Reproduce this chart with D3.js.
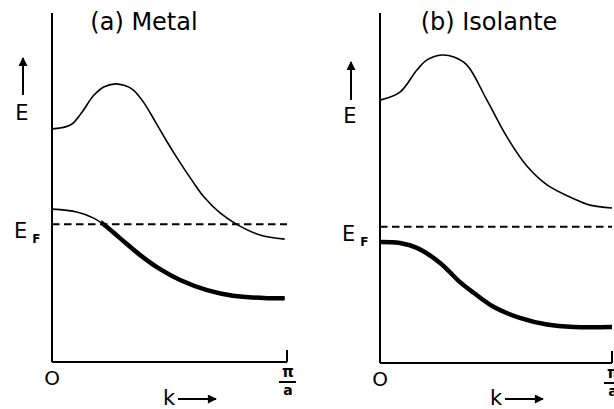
<!DOCTYPE html>
<html>
<head>
<meta charset="utf-8">
<script src="https://cdn.jsdelivr.net/npm/d3@7"></script>
<style>
html,body{margin:0;padding:0;background:#fff;}
svg{display:block;}
text{font-family:"DejaVu Sans",sans-serif;fill:#000;}
</style>
</head>
<body>
<svg id="chart" width="614" height="409"></svg>
<script>
// ---- Data (k in units of π/a, E in arbitrary units 0..10) ----
const titles = ["(a) Metal", "(b) Isolante"];
const kTickLabels = ["O", "π", "a"];
const energyLabel = "E";
const fermiLabel = ["E", "F"];
const kLabel = "k";

// Panel (a) Metal
const metalUpperK = [0, 0.04, 0.085, 0.13, 0.175, 0.22, 0.27, 0.31, 0.345, 0.39, 0.44, 0.485, 0.53, 0.6, 0.645, 0.715, 0.79, 0.885, 0.99];
const metalUpperE = [6.68, 6.71, 6.82, 7.18, 7.62, 7.88, 7.97, 7.92, 7.80, 7.44, 6.88, 6.36, 5.87, 5.16, 4.74, 4.27, 3.93, 3.64, 3.52];
const metalLowerK = [0, 0.106, 0.175, 0.216, 0.289, 0.374, 0.46, 0.545, 0.66, 0.77, 0.915, 0.99];
const metalLowerE = [4.38, 4.30, 4.13, 3.96, 3.55, 3.07, 2.66, 2.35, 2.06, 1.90, 1.83, 1.83];
const metalFermi = 3.95;
const metalFilledFromK = 0.21;

// Panel (b) Isolante
const insUpperK = [0, 0.086, 0.159, 0.203, 0.267, 0.319, 0.375, 0.461, 0.547, 0.634, 0.72, 0.836, 0.905, 1.0];
const insUpperE = [7.51, 7.74, 8.37, 8.66, 8.80, 8.74, 8.51, 7.51, 6.46, 5.62, 5.09, 4.69, 4.51, 4.43];
const insLowerK = [0, 0.086, 0.159, 0.259, 0.345, 0.405, 0.491, 0.603, 0.72, 0.836, 1.0];
const insLowerE = [3.46, 3.43, 3.29, 2.86, 2.31, 2.00, 1.60, 1.29, 1.10, 1.03, 1.03];
const insFermi = 3.89;
const insFilledFromK = 0;

const svg = d3.select("#chart");

const panels = [
  {title: titles[0], x0: 52, x1: 287, yBottom: 362, yTop: 13,
   upperK: metalUpperK, upperE: metalUpperE, lowerK: metalLowerK, lowerE: metalLowerE,
   fermi: metalFermi, filledFrom: metalFilledFromK, titleX: 144, id: "a"},
  {title: titles[1], x0: 380, x1: 612, yBottom: 363, yTop: 13,
   upperK: insUpperK, upperE: insUpperE, lowerK: insLowerK, lowerE: insLowerE,
   fermi: insFermi, filledFrom: insFilledFromK, titleX: 489, id: "b"}
];

const defs = svg.append("defs");
defs.append("marker").attr("id", "arrow")
  .attr("viewBox", "0 0 10 10").attr("refX", 9).attr("refY", 5)
  .attr("markerWidth", 11).attr("markerHeight", 9).attr("markerUnits", "userSpaceOnUse")
  .attr("orient", "auto")
  .append("path").attr("d", "M0,0 L10,5 L0,10 Z").attr("fill", "#000");

panels.forEach(p => {
  const x = d3.scaleLinear().domain([0, 1]).range([p.x0, p.x1]);
  const y = d3.scaleLinear().domain([0, 10]).range([p.yBottom, p.yTop]);
  const g = svg.append("g");

  const line = d3.line().x(d => x(d[0])).y(d => y(d[1])).curve(d3.curveCatmullRom.alpha(0.5));
  const upper = p.upperK.map((k, i) => [k, p.upperE[i]]);
  const lower = p.lowerK.map((k, i) => [k, p.lowerE[i]]);

  // axes
  g.append("line").attr("x1", x(0)).attr("x2", x(0)).attr("y1", y(10)).attr("y2", y(0))
    .attr("stroke", "#000").attr("stroke-width", 2);
  g.append("line").attr("x1", x(0)).attr("x2", x(1)).attr("y1", y(0)).attr("y2", y(0))
    .attr("stroke", "#000").attr("stroke-width", 2);
  g.append("line").attr("x1", x(1)).attr("x2", x(1)).attr("y1", y(0)).attr("y2", y(0) - 12)
    .attr("stroke", "#000").attr("stroke-width", 2);

  // Fermi level
  g.append("line").attr("x1", x(0)).attr("x2", x(1)).attr("y1", y(p.fermi)).attr("y2", y(p.fermi))
    .attr("stroke", "#000").attr("stroke-width", 2).attr("stroke-dasharray", "7.5,4.5");

  // upper band
  g.append("path").attr("d", line(upper)).attr("fill", "none")
    .attr("stroke", "#000").attr("stroke-width", 1.6);

  // lower band: thin everywhere, thick where occupied
  g.append("path").attr("d", line(lower)).attr("fill", "none")
    .attr("stroke", "#000").attr("stroke-width", 1.6);
  const clipId = "clip-" + p.id;
  defs.append("clipPath").attr("id", clipId).append("rect")
    .attr("x", x(p.filledFrom)).attr("y", 0).attr("width", x(1) - x(p.filledFrom) + 10).attr("height", 409);
  g.append("path").attr("d", line(lower)).attr("fill", "none")
    .attr("stroke", "#000").attr("stroke-width", 4.5).attr("clip-path", `url(#${clipId})`);

  // title
  g.append("text").attr("x", p.titleX).attr("y", 30).attr("text-anchor", "middle")
    .attr("font-size", 24).text(p.title);

  // energy arrow and label
  const ax = x(0) - 29;
  g.append("line").attr("x1", ax).attr("x2", ax).attr("y1", p.id === "a" ? 95 : 100).attr("y2", p.id === "a" ? 58 : 62)
    .attr("stroke", "#000").attr("stroke-width", 2).attr("marker-end", "url(#arrow)");
  g.append("text").attr("x", x(0) - 30).attr("y", p.id === "a" ? 120 : 123).attr("text-anchor", "middle")
    .attr("font-size", 21).text(energyLabel);

  // E_F label
  const ef = g.append("text").attr("x", x(0) - 38).attr("y", y(p.fermi) + 14).attr("font-size", 21);
  ef.append("tspan").text(fermiLabel[0]);
  ef.append("tspan").attr("dx", 5).attr("dy", 5).attr("font-size", 12).attr("font-weight", "bold").text(fermiLabel[1]);

  // k tick labels
  g.append("text").attr("x", x(0)).attr("y", y(0) + 23).attr("text-anchor", "middle")
    .attr("font-size", 20).text(kTickLabels[0]);
  g.append("text").attr("x", x(1) + 1).attr("y", y(0) + 15).attr("text-anchor", "middle")
    .attr("font-size", 15).attr("font-weight", "bold").text(kTickLabels[1]);
  g.append("line").attr("x1", x(1) - 8).attr("x2", x(1) + 9).attr("y1", y(0) + 20).attr("y2", y(0) + 20)
    .attr("stroke", "#000").attr("stroke-width", 2);
  g.append("text").attr("x", x(1) + 1).attr("y", y(0) + 33).attr("text-anchor", "middle")
    .attr("font-size", 14).attr("font-weight", "bold").text(kTickLabels[2]);

  // k label and arrow
  const kx = x(0) + (p.id === "a" ? 111 : 110);
  g.append("text").attr("x", kx).attr("y", 405).attr("font-size", 21).text(kLabel);
  g.append("line").attr("x1", kx + 15).attr("x2", kx + 53).attr("y1", 399).attr("y2", 399)
    .attr("stroke", "#000").attr("stroke-width", 2).attr("marker-end", "url(#arrow)");
});
</script>
</body>
</html>
